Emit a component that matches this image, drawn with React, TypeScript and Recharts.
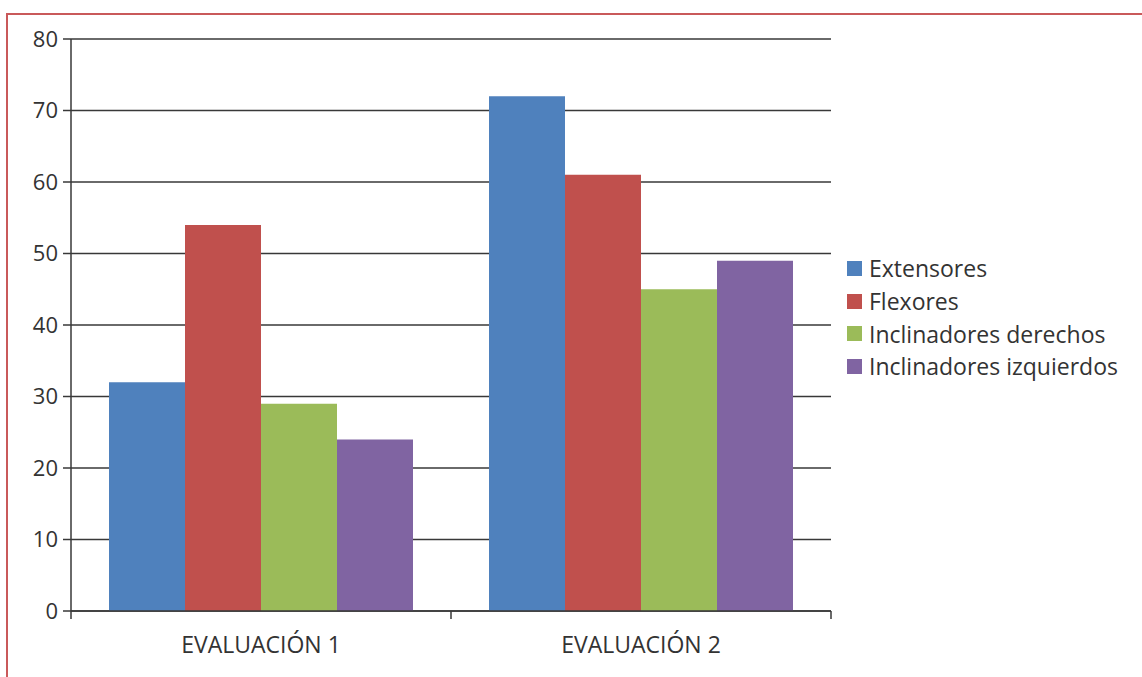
import { BarChart, Bar, XAxis, YAxis, CartesianGrid } from 'recharts'

const categories = ['EVALUACIÓN 1', 'EVALUACIÓN 2']
const extensores = [32, 72]
const flexores = [54, 61]
const inclDerechos = [29, 45]
const inclIzquierdos = [24, 49]
const yTicks = [0, 10, 20, 30, 40, 50, 60, 70, 80]

const SERIES = [
  { key: 'extensores', name: 'Extensores', color: '#4f81bd', values: extensores },
  { key: 'flexores', name: 'Flexores', color: '#c0504d', values: flexores },
  { key: 'inclDerechos', name: 'Inclinadores derechos', color: '#9bbb59', values: inclDerechos },
  { key: 'inclIzquierdos', name: 'Inclinadores izquierdos', color: '#8064a2', values: inclIzquierdos },
]

const data = categories.map((name, i) => {
  const row: Record<string, string | number> = { name }
  SERIES.forEach(s => { row[s.key] = s.values[i] })
  return row
})

const FONT = '"Open Sans", "Noto Sans", sans-serif'
const AXIS = '#383838'

// labels at category centres, tick marks on the band edges (half a band away)
function CategoryTick(props: any) {
  const { x, y, payload, index } = props
  const half = payload?.offset ?? 0
  const isLast = index === categories.length - 1
  return (
    <g>
      <line x1={x - half} x2={x - half} y1={y} y2={y + 8} stroke={AXIS} strokeWidth={1.5} />
      {isLast && <line x1={x + half} x2={x + half} y1={y} y2={y + 8} stroke={AXIS} strokeWidth={1.5} />}
      <text x={x} y={y + 42} textAnchor="middle" fill="#333" fontSize={23} fontFamily={FONT}>
        {payload.value}
      </text>
    </g>
  )
}

export default function App() {
  return (
    <div style={{ position: 'fixed', left: 0, top: 0, width: 1142, height: 677, background: '#fff', overflow: 'hidden' }}>
      <BarChart
        width={1142}
        height={677}
        data={data}
        margin={{ top: 39, right: 311, bottom: 0, left: 0 }}
        barCategoryGap="10%"
        barGap={0}
        style={{ position: 'absolute', left: 0, top: 0 }}
      >
        <CartesianGrid vertical={false} stroke={AXIS} strokeWidth={1.5} />
        <XAxis
          dataKey="name"
          interval={0}
          tickSize={0}
          tickMargin={0}
          tickLine={false}
          tick={<CategoryTick />}
          axisLine={{ stroke: AXIS, strokeWidth: 1.5 }}
          height={66}
        />
        <YAxis
          domain={[0, 80]}
          ticks={yTicks}
          interval={0}
          width={71}
          tickSize={8}
          tickMargin={5}
          axisLine={{ stroke: AXIS, strokeWidth: 1.5 }}
          tickLine={{ stroke: AXIS, strokeWidth: 1.5 }}
          tick={{ fill: '#333', fontSize: 22, fontFamily: FONT }}
        />
        {SERIES.map(s => (
          <Bar key={s.key} dataKey={s.key} name={s.name} fill={s.color} isAnimationActive={false} />
        ))}
      </BarChart>
      <div style={{ position: 'absolute', left: 847, top: 252, fontFamily: FONT, fontSize: 23, color: '#333' }}>
        {SERIES.map(s => (
          <div key={s.key} style={{ display: 'flex', alignItems: 'center', height: 32.7, whiteSpace: 'nowrap' }}>
            <div style={{ width: 15, height: 15, background: s.color, marginRight: 7 }} />
            <span>{s.name}</span>
          </div>
        ))}
      </div>
      <div style={{
        position: 'absolute', left: 6, top: 13, width: 1200, height: 700, zIndex: 2, pointerEvents: 'none',
        borderTop: '2px solid #c9595a', borderLeft: '2px solid #c9595a',
      }} />
    </div>
  )
}
